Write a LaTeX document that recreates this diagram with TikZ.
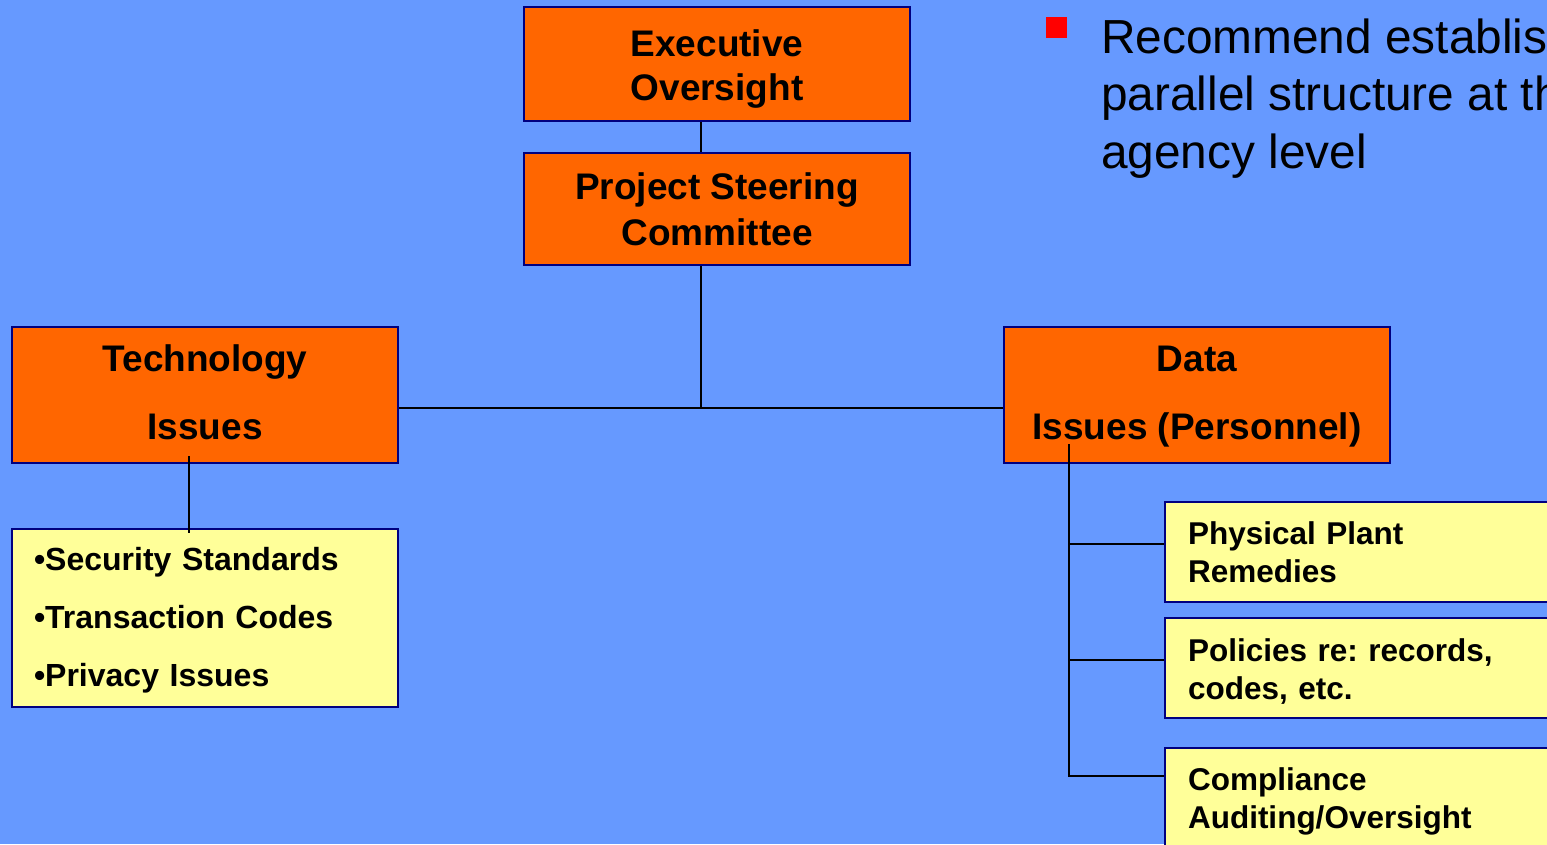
\documentclass[tikz,border=0pt]{standalone}
\usepackage{fontspec}
\setmainfont{Liberation Sans}
\frenchspacing
\definecolor{bgblue}{RGB}{102,153,255}
\definecolor{orangebox}{RGB}{255,102,0}
\definecolor{yellowbox}{RGB}{255,255,153}
\definecolor{navyline}{RGB}{0,0,128}
\definecolor{redsq}{RGB}{255,0,0}
\newcommand{\hraise}[1]{\rule{0pt}{#1}}
\tikzset{
  orgbox/.style={draw=navyline, line width=2pt, fill=orangebox, inner sep=0pt,
    minimum width=386pt, align=center, font=\bfseries\fontsize{37}{44}\selectfont},
  issuebox/.style={orgbox, minimum height=136pt, font=\bfseries\fontsize{37}{68}\selectfont},
  listbox/.style={draw=navyline, line width=2pt, fill=yellowbox, inner ysep=0pt,
    align=left, font=\bfseries\fontsize{31.5}{38}\selectfont},
  conn/.style={draw=black, line width=1.8pt}
}
\begin{document}
\begin{tikzpicture}[x=1pt,y=-1pt]
\useasboundingbox (0,0) rectangle (1547,844);
\clip (0,0) rectangle (1547,844);
\fill[bgblue] (0,0) rectangle (1547,844);

% top boxes
\node[orgbox, minimum height=114pt] (exec) at (717,64) {\hraise{36pt}Executive\\Oversight};
\node[orgbox, minimum height=112pt, font=\bfseries\fontsize{37}{46}\selectfont] (steer) at (717,209) {Project Steering\\Committee};

% issue boxes
\node[issuebox] (tech) at (205,395) {\hraise{29pt}Technology\\Issues\vphantom{(}};
\node[issuebox] (data) at (1197,395) {\hraise{29pt}Data\\Issues (Personnel)};

% technology list
\node[listbox, text width=342pt, inner xsep=22pt, minimum height=178pt,
  font=\bfseries\fontsize{32}{58}\selectfont] (tlist) at (205,618)
  {\hraise{27pt}•Security Standards\\•Transaction Codes\\•Privacy Issues};

% data sub-boxes
\node[listbox, anchor=north west, text width=400pt, inner xsep=23pt, minimum height=100pt] (r1) at (1164,501) {Physical Plant\\Remedies};
\node[listbox, anchor=north west, text width=400pt, inner xsep=23pt, minimum height=100pt] (r2) at (1164,617) {\hraise{29pt}Policies re: records,\\codes, etc.};
\node[listbox, anchor=north west, text width=400pt, inner xsep=23pt, minimum height=107.6pt] (r3) at (1164,747) {Compliance\\Auditing/Oversight};

% connectors
\coordinate (j) at (701,408);
\coordinate (d0) at (1069,444);
\coordinate (b1) at ([yshift=-43pt]r1.north west);
\coordinate (b2) at ([yshift=-43pt]r2.north west);
\coordinate (b3) at ([yshift=-29pt]r3.north west);
\draw[conn] (exec.south -| j) -- (steer.north -| j);
\draw[conn] (steer.south -| j) -- (j);
\draw[conn] (tech.east |- j) -- (data.west |- j);
\draw[conn] ([xshift=-16pt,yshift=8pt]tech.south) -- ([xshift=-16pt,yshift=-5pt]tlist.north);
\draw[conn] (d0) |- (b3);
\draw[conn] (d0 |- b1) -- (b1);
\draw[conn] (d0 |- b2) -- (b2);

% bullet text
\fill[redsq] (1046,17) rectangle (1067,38);
\node[anchor=base west, inner sep=0pt, align=left,
  font=\fontsize{47.8}{57.5}\selectfont] (rec) at (1101,168)
  {Recommend establishing a\\parallel structure at the\\agency level};
\end{tikzpicture}
\end{document}
